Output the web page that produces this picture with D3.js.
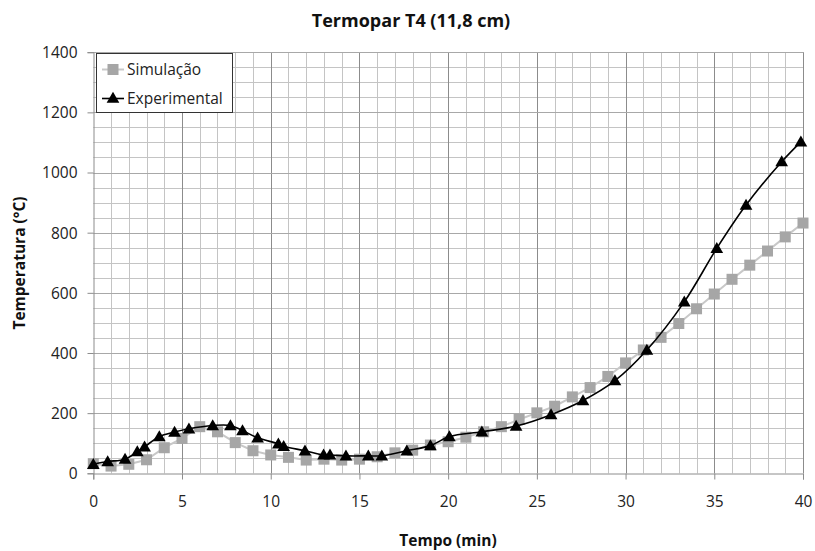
<!DOCTYPE html>
<html><head><meta charset="utf-8">
<script src="https://cdn.jsdelivr.net/npm/d3@7"></script>
<style>
html,body{margin:0;padding:0;background:#fff;}
svg{display:block;font-family:"Open Sans",sans-serif;}
</style></head>
<body>
<svg id="chart" width="815" height="551"></svg>
<script>
const simTime = [0,1,2,3,4,5,6,7,8,9,10,11,12,13,14,15,16,17,18,19,20,21,22,23,24,25,26,27,28,29,30,31,32,33,34,35,36,37,38,39,40];
const simTemp = [32,24,30,45,85,116,155,138,102,75,61,53,44,47,44,47,55,68,77,94,105,120,138,155,179,201,223,254,285,322,367,410,452,498,547,596,645,692,739,786,832];
const expTime = [0,0.81,1.79,2.48,2.89,3.72,4.58,5.39,6.73,7.73,8.41,9.26,10.43,10.73,11.93,12.98,13.34,14.24,15.5,16.26,17.67,19.0,20.07,21.9,23.83,25.8,27.6,29.4,31.2,33.31,35.14,36.79,38.8,39.88];
const expTemp = [30,39,47,72,88,122,137,148,159,159,142,118,98,90,75,61,61,58,58,58,75,92,122,138,157,195,242,308,410,570,748,892,1036,1102];
const xTicks = [0,5,10,15,20,25,30,35,40];
const yTicks = [0,200,400,600,800,1000,1200,1400];
const seriesNames = ["Simulação","Experimental"];
const titleText = "Termopar T4 (11,8 cm)";
const xTitle = "Tempo (min)";
const yTitle = "Temperatura (°C)";

const svg = d3.select("#chart");
const L = 93.3, R = 803, T = 52.2, B = 473.3;
const x = d3.scaleLinear().domain([0,40]).range([L,R]);
const y = d3.scaleLinear().domain([0,1400]).range([B,T]);

const g = svg.append("g");
// minor grid
g.selectAll(".vmin").data(d3.range(0,41,1).filter(v=>v%5!==0)).join("line")
  .attr("x1",d=>Math.round(x(d))+0.5).attr("x2",d=>Math.round(x(d))+0.5)
  .attr("y1",T).attr("y2",B).attr("stroke","#c4c4c4").attr("stroke-width",1);
g.selectAll(".hmin").data(d3.range(0,1401,50).filter(v=>v%200!==0)).join("line")
  .attr("y1",d=>Math.round(y(d))+0.5).attr("y2",d=>Math.round(y(d))+0.5)
  .attr("x1",L).attr("x2",R).attr("stroke","#c4c4c4").attr("stroke-width",1);
// major grid
g.selectAll(".vmaj").data(xTicks.slice(1)).join("line")
  .attr("x1",d=>Math.round(x(d))+0.5).attr("x2",d=>Math.round(x(d))+0.5)
  .attr("y1",T).attr("y2",B).attr("stroke","#8c8c8c").attr("stroke-width",1);
g.selectAll(".hmaj").data(yTicks.slice(1)).join("line")
  .attr("y1",d=>Math.round(y(d))+0.5).attr("y2",d=>Math.round(y(d))+0.5)
  .attr("x1",L).attr("x2",R).attr("stroke","#a8a8a8").attr("stroke-width",1);

// axes
const xAxis = d3.axisBottom(x).tickValues(xTicks).tickSize(6).tickPadding(16).tickFormat(d3.format("d"));
const yAxis = d3.axisLeft(y).tickValues(yTicks).tickSize(6).tickPadding(10).tickFormat(d3.format("d"));
const gx = svg.append("g").attr("transform",`translate(0,${Math.round(B)+0.5})`).call(xAxis);
const gy = svg.append("g").attr("transform",`translate(${Math.round(L)+0.5},0)`).call(yAxis);
[gx,gy].forEach(a=>{
  a.select(".domain").attr("stroke","#8c8c8c");
  a.selectAll(".tick line").attr("stroke","#8c8c8c");
  a.selectAll(".tick text").attr("fill","#222").style("font-size","15.5px").style("font-family","'Open Sans',sans-serif");
});
gy.selectAll(".tick text").attr("dy","0.35em");

// simulation series
const simData = simTime.map((t,i)=>[t,simTemp[i]]);
const expData = expTime.map((t,i)=>[t,expTemp[i]]);
svg.append("path").datum(simData)
  .attr("d",d3.line().x(d=>x(d[0])).y(d=>y(d[1])))
  .attr("fill","none").attr("stroke","#c8c8c8").attr("stroke-width",2);
svg.append("g").selectAll("rect").data(simData).join("rect")
  .attr("x",d=>x(d[0])-5.5).attr("y",d=>y(d[1])-5.5)
  .attr("width",11).attr("height",11).attr("fill","#a6a6a6");

// experimental series
svg.append("path").datum(expData)
  .attr("d",d3.line().x(d=>x(d[0])).y(d=>y(d[1])).curve(d3.curveCatmullRom.alpha(0.5)))
  .attr("fill","none").attr("stroke","#000").attr("stroke-width",1.6);
const tri = d3.symbol().type(d3.symbolTriangle).size(70);
svg.append("g").selectAll("path").data(expData).join("path")
  .attr("transform",d=>`translate(${x(d[0])},${y(d[1])+1})`)
  .attr("d",tri).attr("fill","#000");

// legend
const lg = svg.append("g");
lg.append("rect").attr("x",96.5).attr("y",53.5).attr("width",136).attr("height",59)
  .attr("fill","#fff").attr("stroke","#333").attr("stroke-width",1);
lg.append("line").attr("x1",102).attr("x2",124).attr("y1",69.5).attr("y2",69.5).attr("stroke","#c8c8c8").attr("stroke-width",2);
lg.append("rect").attr("x",107.5).attr("y",64).attr("width",11).attr("height",11).attr("fill","#a6a6a6");
lg.append("text").attr("x",127).attr("y",69.5).attr("dy","0.35em").text(seriesNames[0])
  .style("font-size","15.5px").attr("fill","#222");
lg.append("line").attr("x1",102).attr("x2",124).attr("y1",98.5).attr("y2",98.5).attr("stroke","#000").attr("stroke-width",1.6);
lg.append("path").attr("transform","translate(113,99)").attr("d",tri).attr("fill","#000");
lg.append("text").attr("x",127).attr("y",98.5).attr("dy","0.35em").text(seriesNames[1])
  .style("font-size","15.5px").attr("fill","#222");

// titles
svg.append("text").attr("x",411).attr("y",27).attr("text-anchor","middle")
  .style("font-size","18px").style("font-weight","bold").attr("fill","#111").text(titleText);
svg.append("text").attr("x",448).attr("y",546).attr("text-anchor","middle")
  .style("font-size","15.5px").style("font-weight","bold").attr("fill","#111").text(xTitle);
svg.append("text").attr("transform","translate(25,263) rotate(-90)").attr("text-anchor","middle")
  .style("font-size","15.5px").style("font-weight","bold").attr("fill","#111").text(yTitle);
</script>
</body></html>
